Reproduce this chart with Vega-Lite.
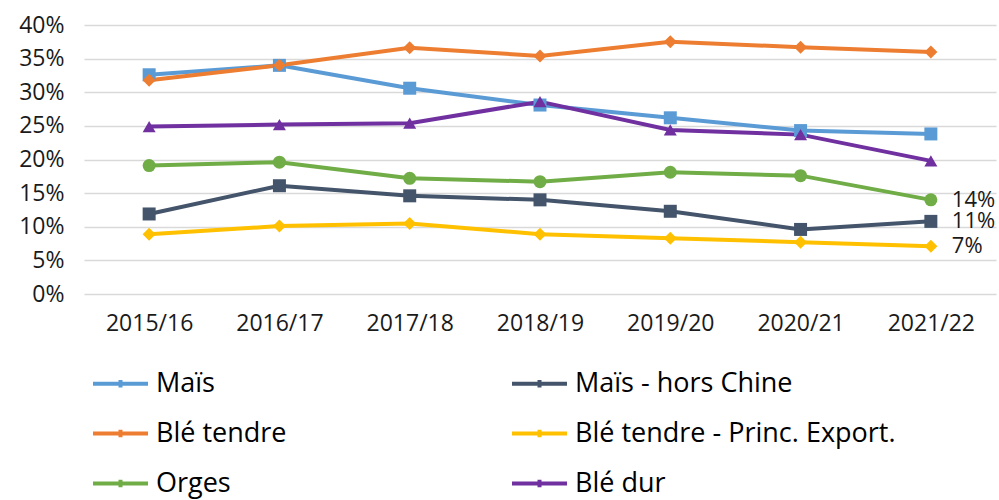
{
  "$schema": "https://vega.github.io/schema/vega-lite/v6.json",
  "width": 912,
  "height": 269,
  "autosize": {"type": "none"},
  "padding": {"left": 84, "top": 25, "right": 3, "bottom": 206},
  "background": "white",
  "config": {
    "view": {"stroke": null},
    "font": "Open Sans",
    "axis": {"labelFont": "Open Sans", "labelColor": "#1a1a1a", "labelFontSize": 23}
  },
  "resolve": {"legend": {"color": "independent", "shape": "independent", "size": "independent"}},
  "data": {
    "values": [
      {"serie": "Maïs", "campagne": "2015/16", "part": 0.326},
      {"serie": "Maïs", "campagne": "2016/17", "part": 0.340},
      {"serie": "Maïs", "campagne": "2017/18", "part": 0.306},
      {"serie": "Maïs", "campagne": "2018/19", "part": 0.281},
      {"serie": "Maïs", "campagne": "2019/20", "part": 0.262},
      {"serie": "Maïs", "campagne": "2020/21", "part": 0.243},
      {"serie": "Maïs", "campagne": "2021/22", "part": 0.238},
      {"serie": "Maïs - hors Chine", "campagne": "2015/16", "part": 0.119},
      {"serie": "Maïs - hors Chine", "campagne": "2016/17", "part": 0.161},
      {"serie": "Maïs - hors Chine", "campagne": "2017/18", "part": 0.146},
      {"serie": "Maïs - hors Chine", "campagne": "2018/19", "part": 0.140},
      {"serie": "Maïs - hors Chine", "campagne": "2019/20", "part": 0.123},
      {"serie": "Maïs - hors Chine", "campagne": "2020/21", "part": 0.096},
      {"serie": "Maïs - hors Chine", "campagne": "2021/22", "part": 0.108},
      {"serie": "Blé tendre", "campagne": "2015/16", "part": 0.318},
      {"serie": "Blé tendre", "campagne": "2016/17", "part": 0.340},
      {"serie": "Blé tendre", "campagne": "2017/18", "part": 0.366},
      {"serie": "Blé tendre", "campagne": "2018/19", "part": 0.354},
      {"serie": "Blé tendre", "campagne": "2019/20", "part": 0.375},
      {"serie": "Blé tendre", "campagne": "2020/21", "part": 0.367},
      {"serie": "Blé tendre", "campagne": "2021/22", "part": 0.360},
      {"serie": "Blé tendre - Princ. Export.", "campagne": "2015/16", "part": 0.089},
      {"serie": "Blé tendre - Princ. Export.", "campagne": "2016/17", "part": 0.101},
      {"serie": "Blé tendre - Princ. Export.", "campagne": "2017/18", "part": 0.105},
      {"serie": "Blé tendre - Princ. Export.", "campagne": "2018/19", "part": 0.089},
      {"serie": "Blé tendre - Princ. Export.", "campagne": "2019/20", "part": 0.083},
      {"serie": "Blé tendre - Princ. Export.", "campagne": "2020/21", "part": 0.077},
      {"serie": "Blé tendre - Princ. Export.", "campagne": "2021/22", "part": 0.071},
      {"serie": "Orges", "campagne": "2015/16", "part": 0.191},
      {"serie": "Orges", "campagne": "2016/17", "part": 0.196},
      {"serie": "Orges", "campagne": "2017/18", "part": 0.172},
      {"serie": "Orges", "campagne": "2018/19", "part": 0.167},
      {"serie": "Orges", "campagne": "2019/20", "part": 0.181},
      {"serie": "Orges", "campagne": "2020/21", "part": 0.176},
      {"serie": "Orges", "campagne": "2021/22", "part": 0.140},
      {"serie": "Blé dur", "campagne": "2015/16", "part": 0.249},
      {"serie": "Blé dur", "campagne": "2016/17", "part": 0.252},
      {"serie": "Blé dur", "campagne": "2017/18", "part": 0.254},
      {"serie": "Blé dur", "campagne": "2018/19", "part": 0.286},
      {"serie": "Blé dur", "campagne": "2019/20", "part": 0.244},
      {"serie": "Blé dur", "campagne": "2020/21", "part": 0.237},
      {"serie": "Blé dur", "campagne": "2021/22", "part": 0.198}
    ]
  },
  "encoding": {
    "x": {
      "field": "campagne", "type": "ordinal",
      "scale": {"type": "point", "padding": 0.5},
      "axis": {"title": null, "labelAngle": 0, "domain": false, "ticks": false, "labelPadding": 18}
    },
    "y": {
      "field": "part", "type": "quantitative",
      "scale": {"domain": [0, 0.4], "nice": false},
      "axis": {
        "title": null, "format": ".0%", "values": [0, 0.05, 0.1, 0.15, 0.2, 0.25, 0.3, 0.35, 0.4],
        "domain": false, "ticks": false, "labelPadding": 20,
        "gridColor": "#d9d9d9", "gridWidth": 1.3
      }
    }
  },
  "layer": [
    {
      "mark": {"type": "line", "strokeWidth": 4},
      "encoding": {
        "color": {
          "field": "serie", "type": "nominal",
          "scale": {
            "domain": ["Maïs", "Maïs - hors Chine", "Blé tendre", "Blé tendre - Princ. Export.", "Orges", "Blé dur"],
            "range": ["#5B9BD5", "#44546A", "#ED7D31", "#FFC000", "#70AD47", "#7030A0"]
          },
          "legend": {
            "title": null,
            "orient": "none",
            "direction": "horizontal",
            "legendX": 7,
            "legendY": 329,
            "columns": 2,
            "columnPadding": 217,
            "rowPadding": 7,
            "padding": 0,
            "labelFont": "Open Sans",
            "labelFontSize": 27,
            "labelColor": "#000000",
            "labelLimit": 500,
            "labelOffset": 6,
            "symbolType": "M-1,0H1M0,-0.14V0.14",
            "symbolSize": 3025,
            "symbolStrokeWidth": 4
          }
        }
      }
    },
    {
      "mark": {"type": "point", "filled": true, "opacity": 1},
      "encoding": {
        "color": {"field": "serie", "type": "nominal", "legend": null},
        "shape": {
          "field": "serie", "type": "nominal", "legend": null,
          "scale": {
            "domain": ["Maïs", "Maïs - hors Chine", "Blé tendre", "Blé tendre - Princ. Export.", "Orges", "Blé dur"],
            "range": ["square", "square", "diamond", "diamond", "circle", "triangle-up"]
          }
        },
        "size": {
          "field": "serie", "type": "nominal", "legend": null,
          "scale": {
            "domain": ["Maïs", "Maïs - hors Chine", "Blé tendre", "Blé tendre - Princ. Export.", "Orges", "Blé dur"],
            "range": [169, 169, 110, 110, 130, 190]
          }
        }
      }
    },
    {
      "transform": [
        {"filter": "datum.campagne === '2021/22' && (datum.serie === 'Orges' || datum.serie === 'Maïs - hors Chine' || datum.serie === 'Blé tendre - Princ. Export.')"}
      ],
      "mark": {"type": "text", "align": "left", "baseline": "middle", "dx": 21, "fontSize": 22, "font": "Open Sans", "color": "#1a1a1a"},
      "encoding": {
        "text": {"field": "part", "type": "quantitative", "format": ".0%"}
      }
    }
  ]
}
